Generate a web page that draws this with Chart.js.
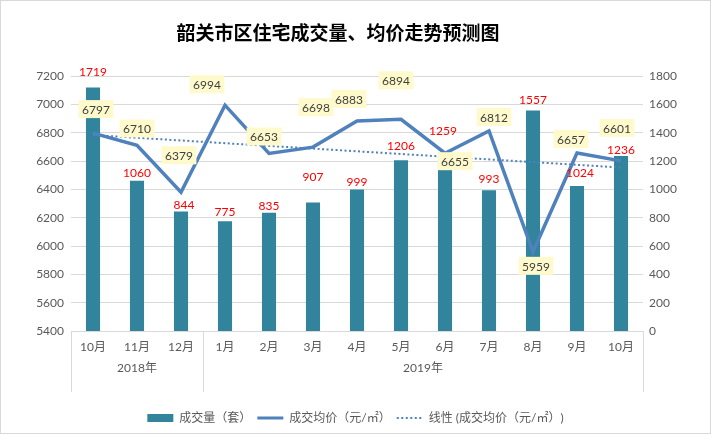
<!DOCTYPE html>
<html>
<head>
<meta charset="utf-8">
<script src="https://cdn.jsdelivr.net/npm/chart.js@4/dist/chart.umd.min.js"></script>
<style>
  html, body { margin: 0; padding: 0; background: #fff; }
</style>
</head>
<body>
<canvas id="graficoPrevisao" width="711" height="434"></canvas>
<script>
const months = ["10月", "11月", "12月", "1月", "2月", "3月", "4月", "5月", "6月", "7月", "8月", "9月", "10月"];
const years = ["2018年", "2019年"];
const monthsPerYear = [3, 10];
const volume = [1719, 1060, 844, 775, 835, 907, 999, 1206, 1259, 993, 1557, 1024, 1236];
const price = [6797, 6710, 6379, 6994, 6653, 6698, 6883, 6894, 6655, 6812, 5959, 6657, 6601];
// trend line: only its two ends
const trend = [6783, null, null, null, null, null, null, null, null, null, null, null, 6554];

// where the labels sit relative to their mark (dx, dy), as in the picture
const volumeLabelShift = [[0, -15], [0, -8], [3, -6], [0, -9], [0, -7], [0, -25], [0, -7], [0, -14], [-2, -22], [0, -11], [0, -10], [3, -13], [0, -6]];
const priceLabelShift = [[3, -24], [0, -17], [-2, -37], [-18, -21], [-5, -17], [3, -40], [-8, -22], [-5, -39], [10, 8], [5, -14], [3, 14], [-6, -14], [-4, -33]];

const FONT = "Lato, 'Noto Sans CJK SC', sans-serif";
const GREY = "#595959";

const fundo = {
  id: "fundo",
  beforeDraw(chart) {
    const ctx = chart.ctx;
    ctx.save();
    ctx.fillStyle = "#fff";
    ctx.fillRect(0, 0, chart.width, chart.height);
    ctx.strokeStyle = "#D9D9D9";
    ctx.lineWidth = 1;
    ctx.strokeRect(0.5, 0.5, chart.width - 1, chart.height - 1);
    ctx.fillStyle = "#000";
    ctx.font = "bold 19px 'Noto Sans CJK SC', sans-serif";
    ctx.textAlign = "center";
    ctx.textBaseline = "middle";
    ctx.fillText("韶关市区住宅成交量、均价走势预测图", 338, 33);
    ctx.restore();
  }
};

const anos = {
  id: "anos",
  afterDraw(chart) {
    const ctx = chart.ctx;
    const x = chart.scales.x;
    const half = (x.getPixelForValue(1) - x.getPixelForValue(0)) / 2;
    const top = chart.chartArea.bottom;
    ctx.save();
    ctx.strokeStyle = "#D9D9D9";
    ctx.lineWidth = 1;
    ctx.fillStyle = GREY;
    ctx.font = "12px " + FONT;
    ctx.textAlign = "center";
    ctx.textBaseline = "middle";
    let start = 0;
    monthsPerYear.forEach((n, k) => {
      const left = x.getPixelForValue(start) - half;
      const right = x.getPixelForValue(start + n - 1) + half;
      [left, right].forEach(p => {
        ctx.beginPath();
        ctx.moveTo(Math.round(p) + 0.5, top);
        ctx.lineTo(Math.round(p) + 0.5, top + 61);
        ctx.stroke();
      });
      ctx.fillText(years[k], (left + right) / 2, top + 37);
      start += n;
    });
    ctx.restore();
  }
};

const rotulos = {
  id: "rotulos",
  afterDatasetsDraw(chart) {
    const ctx = chart.ctx;
    ctx.save();
    ctx.font = "12px " + FONT;
    ctx.textAlign = "center";
    ctx.textBaseline = "middle";
    chart.getDatasetMeta(0).data.forEach((bar, i) => {
      ctx.fillStyle = "#FF0000";
      ctx.fillText(volume[i], bar.x + volumeLabelShift[i][0], bar.y + volumeLabelShift[i][1]);
    });
    chart.getDatasetMeta(1).data.forEach((pt, i) => {
      const x = pt.x + priceLabelShift[i][0];
      const y = pt.y + priceLabelShift[i][1];
      const w = ctx.measureText(price[i]).width + 7;
      ctx.fillStyle = "#FFFACC";
      ctx.fillRect(x - w / 2, y - 9, w, 18);
      ctx.fillStyle = "#404040";
      ctx.fillText(price[i], x, y + 1);
    });
    ctx.restore();
  }
};

const ctx = document.getElementById("graficoPrevisao").getContext("2d");

const grafico = new Chart(ctx, {
  type: "bar",
  data: {
    labels: months,
    datasets: [
      {
        type: "bar",
        label: "成交量（套）",
        data: volume,
        yAxisID: "y1",
        backgroundColor: "#31849B",
        barPercentage: 0.32,
        categoryPercentage: 1,
        pointStyle: "rect",
        order: 2
      },
      {
        type: "line",
        label: "成交均价（元/㎡）",
        data: price,
        yAxisID: "y",
        borderColor: "#4F81BD",
        backgroundColor: "#4F81BD",
        borderWidth: 3.5,
        pointRadius: 0,
        tension: 0,
        pointStyle: "line",
        order: 0
      },
      {
        type: "line",
        label: "线性 (成交均价（元/㎡）)",
        data: trend,
        yAxisID: "y",
        borderColor: "#4F81BD",
        backgroundColor: "#4F81BD",
        borderWidth: 2,
        borderDash: [2, 2.5],
        pointRadius: 0,
        spanGaps: true,
        pointStyle: "line",
        order: 1
      }
    ]
  },
  options: {
    responsive: false,
    animation: false,
    layout: { padding: { top: 76, left: 0, right: 0, bottom: 0 } },
    plugins: {
      title: { display: false },
      tooltip: { enabled: false },
      legend: {
        position: "bottom",
        labels: {
          usePointStyle: true,
          pointStyleWidth: 26,
          boxHeight: 8,
          padding: 6,
          color: GREY,
          font: { size: 12, family: FONT },
          sort: (a, b) => a.datasetIndex - b.datasetIndex,
          generateLabels: chart => {
            const items = Chart.defaults.plugins.legend.labels.generateLabels(chart);
            items.forEach(item => {
              const ds = chart.data.datasets[item.datasetIndex];
              if (ds.type === "line") {
                item.lineWidth = ds.borderWidth === 2 ? 2 : 3;
                item.lineDash = ds.borderDash || [];
                item.strokeStyle = ds.borderColor;
              }
            });
            return items;
          }
        }
      }
    },
    scales: {
      x: {
        grid: { display: false },
        border: { display: true, color: "#D9D9D9" },
        ticks: { color: GREY, font: { size: 12, family: FONT }, padding: 1, maxRotation: 0, autoSkip: false },
        afterFit: s => { s.height = 75; }
      },
      y: {
        position: "left",
        min: 5400,
        max: 7200,
        ticks: { stepSize: 200, color: GREY, font: { size: 12, family: FONT }, padding: 7, callback: v => String(v) },
        grid: { color: "#D9D9D9", drawTicks: false },
        border: { display: false },
        afterFit: s => { s.width = 71; }
      },
      y1: {
        position: "right",
        min: 0,
        max: 1800,
        ticks: { stepSize: 200, color: GREY, font: { size: 12, family: FONT }, padding: 6, callback: v => String(v) },
        grid: { display: false, drawTicks: false },
        border: { display: false },
        afterFit: s => { s.width = 68; }
      }
    }
  },
  plugins: [fundo, anos, rotulos]
});
</script>
</body>
</html>
